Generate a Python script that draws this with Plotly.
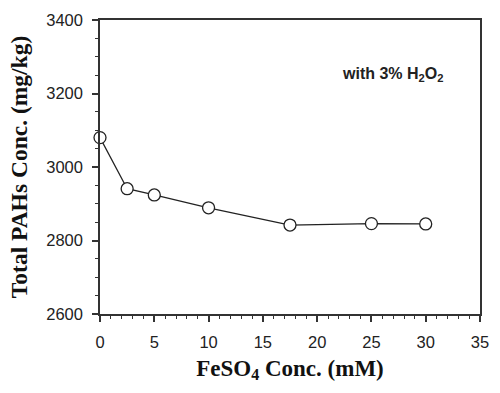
import plotly.graph_objects as go

feso4 = [0, 2.5, 5, 10, 17.5, 25, 30]
pahs = [3080, 2941, 2924, 2889, 2842, 2846, 2845]

fig = go.Figure()
fig.add_trace(go.Scatter(
    x=feso4, y=pahs, mode="lines+markers",
    line=dict(color="#222", width=1.3),
    marker=dict(symbol="circle", size=12, color="white", line=dict(color="#222", width=1.3)),
    showlegend=False, cliponaxis=False,
))

axis_common = dict(
    showgrid=False, zeroline=False, showline=True, linecolor="#333", linewidth=1.5,
    mirror=True, ticks="outside", tickcolor="#333", tickwidth=1.5, ticklen=6,
    ticklabelstandoff=6,
    tickfont=dict(family="Arial, Liberation Sans", size=16.5, color="#222"),
)

fig.update_layout(
    width=500, height=393, plot_bgcolor="white", paper_bgcolor="white",
    margin=dict(l=100, r=11, t=16, b=79),
    xaxis=dict(range=[0, 35], dtick=5, tick0=0,
               minor=dict(dtick=1, ticks="outside", ticklen=3, tickcolor="#333", tickwidth=1.2),
               title=dict(text="FeSO<sub>4</sub> Conc. (mM)", standoff=10,
                          font=dict(family="Times New Roman, Liberation Serif", size=23, color="#111", weight="bold")),
               **axis_common),
    yaxis=dict(range=[2600, 3400], dtick=200, tick0=2600,
               minor=dict(dtick=50, ticks="outside", ticklen=3, tickcolor="#333", tickwidth=1.2),
               title=dict(text="Total PAHs Conc. (mg/kg)", standoff=12,
                          font=dict(family="Times New Roman, Liberation Serif", size=23.5, color="#111", weight="bold")),
               **axis_common),
)

fig.add_annotation(x=26.9, y=3252, xref="x", yref="y", showarrow=False,
                   text="<b>with 3% H<sub>2</sub>O<sub>2</sub></b>",
                   font=dict(family="Arial, Liberation Sans", size=16, color="#222"))

fig.write_html("out.html")
